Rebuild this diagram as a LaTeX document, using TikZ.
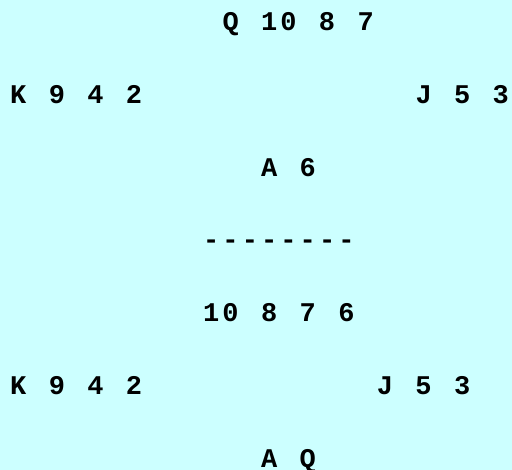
\documentclass[tikz,border=0pt]{standalone}
\usepackage{fontspec}
\newfontfamily\cardfont{Liberation Mono}[LetterSpace=11.5, WordSpace={1.16,0,0}, Ligatures=NoCommon]
\definecolor{bgcyan}{RGB}{204,255,255}
\begin{document}
\begin{tikzpicture}[x=1pt,y=1pt,
  hand/.style={inner sep=0pt, anchor=base west, font=\cardfont\bfseries\fontsize{27}{27}\selectfont}]
\fill[bgcyan] (0,0) rectangle (512,470);
\useasboundingbox (0,0) rectangle (512,470);
\def\cw{19.3}
\node[hand] (n1) at (10+11*\cw, 470-31) {Q 10 8 7};
\node[hand] (w1) at (10, 470-103.7) {K 9 4 2};
\node[hand] (e1) at (10+21*\cw, 470-103.7) {J 5 3};
\node[hand] (s1) at (10+13*\cw, 470-176.4) {A 6};
\node[hand] (sep) at (10+10*\cw, 470-249) {-{}-{}-{}-{}-{}-{}-{}-};
\node[hand] (n2) at (10+10*\cw, 470-321.8) {10 8 7 6};
\node[hand] (w2) at (10, 470-394.5) {K 9 4 2};
\node[hand] (e2) at (10+19*\cw, 470-394.5) {J 5 3};
\node[hand] (s2) at (10+13*\cw, 470-467.2) {A Q};
\end{tikzpicture}
\end{document}
